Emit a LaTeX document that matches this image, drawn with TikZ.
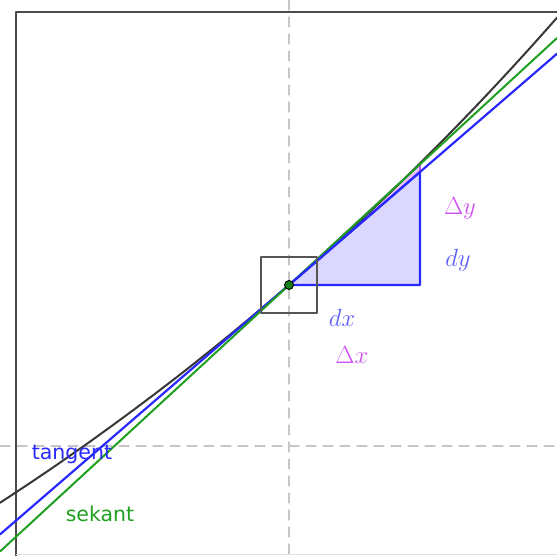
\documentclass[tikz,border=0pt]{standalone}
\usepackage{fontspec}
\newfontfamily\labelfont{DejaVu Sans}
\usetikzlibrary{calc}

\definecolor{tanblue}{RGB}{40,40,255}
\definecolor{lblblue}{RGB}{95,95,250}
\definecolor{secgreen}{RGB}{30,160,30}
\definecolor{deltapink}{RGB}{205,80,245}
\definecolor{trifill}{RGB}{220,215,255}
\definecolor{curvegray}{RGB}{55,55,55}

\begin{document}
\begin{tikzpicture}[x=1pt, y=-1pt, line cap=round, line join=round]

% ---------------- styles ----------------
\tikzset{
  frame/.style  ={draw=curvegray!90, line width=2.2pt},
  axis/.style   ={draw=gray!45, line width=1.3pt, dash pattern=on 10pt off 7pt},
  curve/.style  ={draw=curvegray, line width=2pt},
  tangent/.style={draw=tanblue, line width=2.2pt},
  secant/.style ={draw=secgreen, line width=2pt},
  zoombox/.style={draw=curvegray!85, line width=2pt},
  mathlbl/.style={inner sep=0pt, font=\fontsize{27}{30}\selectfont},
  namelbl/.style={inner sep=0pt, font=\labelfont\fontsize{20.5}{24}\selectfont}
}

% ---------------- parameters ----------------
\def\Px{289}     % point of tangency, x
\def\Py{285}     % point of tangency, y
\def\H{131}      % step dx
\def\Box{28}     % half side of zoom box
\def\A{863}      % curve amplitude
\def\K{0.001}    % curve rate

\useasboundingbox (0,0) rectangle (557,555);
\clip (0,0) rectangle (557,555);

% ---------------- anchors ----------------
\coordinate (P)     at (\Px,\Py);
\coordinate (dxEnd) at (\Px+\H,\Py);
\coordinate (dyEnd) at (\Px+\H,172);
\coordinate (DyEnd) at (\Px+\H,164.2);
\coordinate (tanL)  at (0,534.4);
\coordinate (tanR)  at (557,53.7);
\coordinate (secL)  at (0,551.5);
\coordinate (secR)  at (557,38);

% ---------------- frame and axes ----------------
\draw[axis] (\Px,0) -- (\Px,555);
\draw[axis] (0,446) -- (557,446);
\draw[frame] (16,560) -- (16,12) -- (560,12);
\draw[gray!25, line width=0.8pt] (16,554) -- (557,554);

% ---------------- slope triangles ----------------
\fill[deltapink!35] (P) -- (dxEnd) -- (DyEnd) -- cycle;
\draw[deltapink, line width=1.6pt] (P) -- (DyEnd) -- (dyEnd);
\fill[trifill] (P) -- (dxEnd) -- (dyEnd) -- cycle;

% ---------------- curve and lines ----------------
\draw[curve] plot[domain=-289:268, samples=80, smooth]
  ({\Px+\x}, {\Py-\A*(exp(\K*\x)-1)});
\draw[tangent] (tanL) -- (tanR);
\draw[secant] (secL) -- (secR);
\draw[tangent] (P) -- (dxEnd) -- (dyEnd) -- cycle;

% ---------------- zoom box and point ----------------
\draw[zoombox] ($(P)+(-\Box,-\Box)$) rectangle ($(P)+(\Box,\Box)$);
\filldraw[fill=secgreen!80!black, draw=black, line width=0.9pt] (P) circle (4.5pt);

% ---------------- labels ----------------
\node[mathlbl, text=deltapink] (DyLbl) at (460,208) {$\Delta y$};
\node[mathlbl, text=lblblue]   (dyLbl) at (458,260) {$dy$};
\node[mathlbl, text=lblblue]   (dxLbl) at (342,318) {$dx$};
\node[mathlbl, text=deltapink] (DxLbl) at (352,355) {$\Delta x$};
\node[namelbl, text=tanblue]   (tanLbl) at (72,454) {tangent};
\node[namelbl, text=secgreen]  (secLbl) at (100,514) {sekant};

\end{tikzpicture}
\end{document}
